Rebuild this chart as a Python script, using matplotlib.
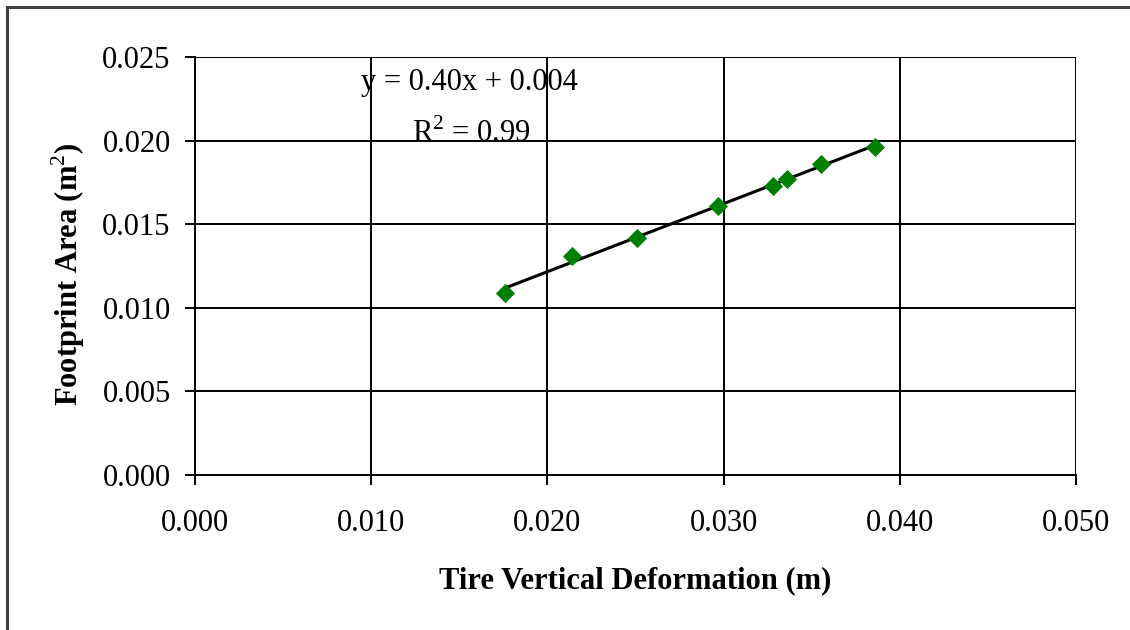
import numpy as np
import matplotlib
matplotlib.use("Agg")
import matplotlib.pyplot as plt
from matplotlib.patches import Rectangle

# Data
deformation = [0.0176, 0.0214, 0.0251, 0.0297, 0.0328, 0.0336, 0.0355, 0.0386]
footprint = [0.0109, 0.0131, 0.0142, 0.0161, 0.0173, 0.0177, 0.0186, 0.0196]
x_ticks = [0.000, 0.010, 0.020, 0.030, 0.040, 0.050]
y_ticks = [0.000, 0.005, 0.010, 0.015, 0.020, 0.025]
x_label = "Tire Vertical Deformation (m)"
y_label = "Footprint Area (m$^{2}$)"
eq_text = "y = 0.40x + 0.004"
r2_text = "R$^{2}$ = 0.99"

plt.rcParams['font.family'] = ['Liberation Serif', 'DejaVu Serif']
plt.rcParams['mathtext.fontset'] = 'custom'
plt.rcParams['mathtext.rm'] = 'Liberation Serif'
plt.rcParams['mathtext.bf'] = 'Liberation Serif:bold'

fig = plt.figure(figsize=(11.3, 6.3), dpi=100)
ax = fig.add_axes([195/1130, 155/630, (1076-195)/1130, (475-57)/630])

# Figure border (chart area frame, partially cropped)
fig.patches.append(Rectangle((7/1130, -0.05), 1.2, (630-7)/630 + 0.05,
                             transform=fig.transFigure, fill=False,
                             edgecolor='#404040', linewidth=2.2, zorder=0))

ax.set_xlim(0, 0.05)
ax.set_ylim(0, 0.025)
ax.set_xticks(x_ticks)
ax.set_yticks(y_ticks)
ax.set_xticklabels([f"{v:.3f}" for v in x_ticks])
ax.set_yticklabels([f"{v:.3f}" for v in y_ticks])
ax.grid(True, color='black', linewidth=1.4)
ax.set_axisbelow(True)
for s in ['top', 'right']:
    ax.spines[s].set_visible(False)
for s in ['left', 'bottom']:
    ax.spines[s].set_color('black')
    ax.spines[s].set_linewidth(1.4)
ax.tick_params(axis='both', direction='out', length=7.5, width=1.4,
               labelsize=22, colors='black')
ax.tick_params(axis='y', pad=10)
ax.tick_params(axis='x', pad=17)

x = np.array(deformation)
y = np.array(footprint)
slope, intercept = np.polyfit(x, y, 1)
xs = np.array([x.min(), x.max()])
ax.plot(xs, slope * xs + intercept, color='black', linewidth=2.2, zorder=3)
ax.scatter(x, y, marker='D', s=95, color='#008000', zorder=4, linewidths=0)

ax.text(0.0156, 0.0235, eq_text, ha='center', va='center', fontsize=22)
ax.text(0.0157, 0.0204, r2_text, ha='center', va='center', fontsize=22)

fig.text(635/1130, 1 - 581/630, x_label, ha='center', va='center',
         fontsize=22, fontweight='bold')
fig.text(68/1130, 1 - 274/630, y_label, ha='center', va='center',
         fontsize=22, fontweight='bold', rotation=90)

fig.savefig("out.png", dpi=100, facecolor='white')
